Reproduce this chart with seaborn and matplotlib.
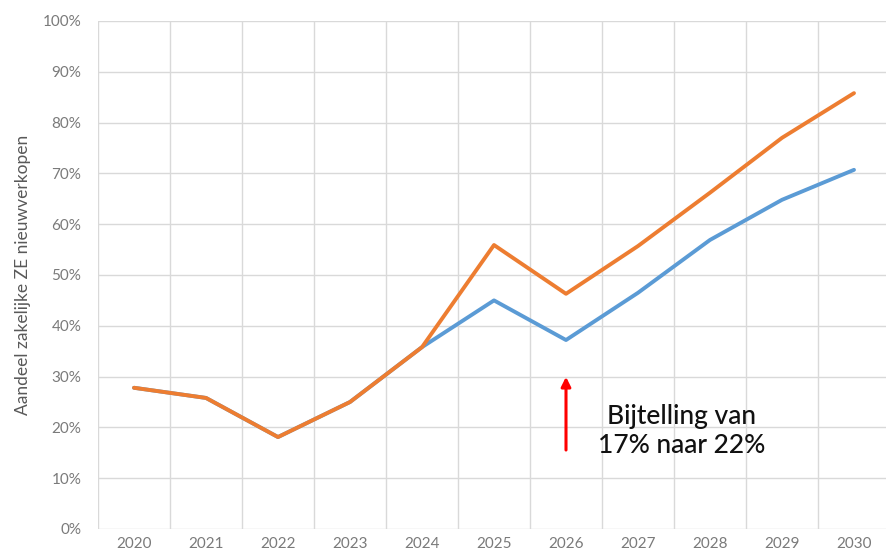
import matplotlib
matplotlib.use("Agg")
import matplotlib.pyplot as plt
import matplotlib.ticker as ticker
import seaborn as sns
import pandas as pd

jaren = ['2020', '2021', '2022', '2023', '2024', '2025', '2026', '2027', '2028', '2029', '2030']
aandeel_blauw = [27.8, 25.8, 18.1, 25.0, 35.8, 45.0, 37.2, 46.5, 56.9, 64.8, 70.7]
aandeel_oranje = [27.8, 25.8, 18.1, 25.0, 35.8, 55.9, 46.3, 55.7, 66.2, 77.0, 85.8]

df = pd.DataFrame({'pos': range(len(jaren)), 'blauw': aandeel_blauw, 'oranje': aandeel_oranje})

sns.set_style('white')
plt.rcParams['font.family'] = ['Lato', 'DejaVu Sans']

fig = plt.figure(figsize=(8.87, 5.57), dpi=100)
ax = fig.add_axes([98 / 887, 28 / 557, 792 / 887, 508 / 557])

sns.lineplot(data=df, x='pos', y='blauw', color='#5B9BD5', linewidth=2.8, ax=ax)
sns.lineplot(data=df, x='pos', y='oranje', color='#ED7D31', linewidth=2.8, ax=ax)

ax.set_xlim(-0.5, len(jaren) - 0.5)
ax.set_ylim(0, 100)
ax.set_xticks(range(len(jaren)))
ax.set_xticklabels(jaren)
ax.set_xticks([i - 0.5 for i in range(len(jaren) + 1)], minor=True)
ax.set_yticks(range(0, 101, 10))
ax.yaxis.set_major_formatter(ticker.FuncFormatter(lambda v, p: f'{v:.0f}%'))

ax.grid(False)
ax.grid(axis='y', which='major', color='#d9d9d9', linewidth=1)
ax.grid(axis='x', which='minor', color='#d9d9d9', linewidth=1)
ax.tick_params(axis='both', which='both', length=0, labelsize=11, labelcolor='#7a7a7a')
ax.tick_params(axis='y', pad=12)
ax.tick_params(axis='x', pad=6)
for s in ax.spines.values():
    s.set_visible(False)
ax.set_axisbelow(True)

ax.set_xlabel('')
ax.set_ylabel('Aandeel zakelijke ZE nieuwverkopen', fontsize=12.5, color='#595959', labelpad=8)

# rode pijl + tekst
ax.annotate('', xy=(6, 30.5), xytext=(6, 15.0),
            arrowprops=dict(arrowstyle='-|>', color='#FF0000', lw=2.2, mutation_scale=14))
ax.text(7.6, 19.3, 'Bijtelling van\n17% naar 22%', fontsize=19, color='#111111',
        ha='center', va='center', linespacing=1.2, fontweight='medium')

fig.savefig('out.png', dpi=100)
